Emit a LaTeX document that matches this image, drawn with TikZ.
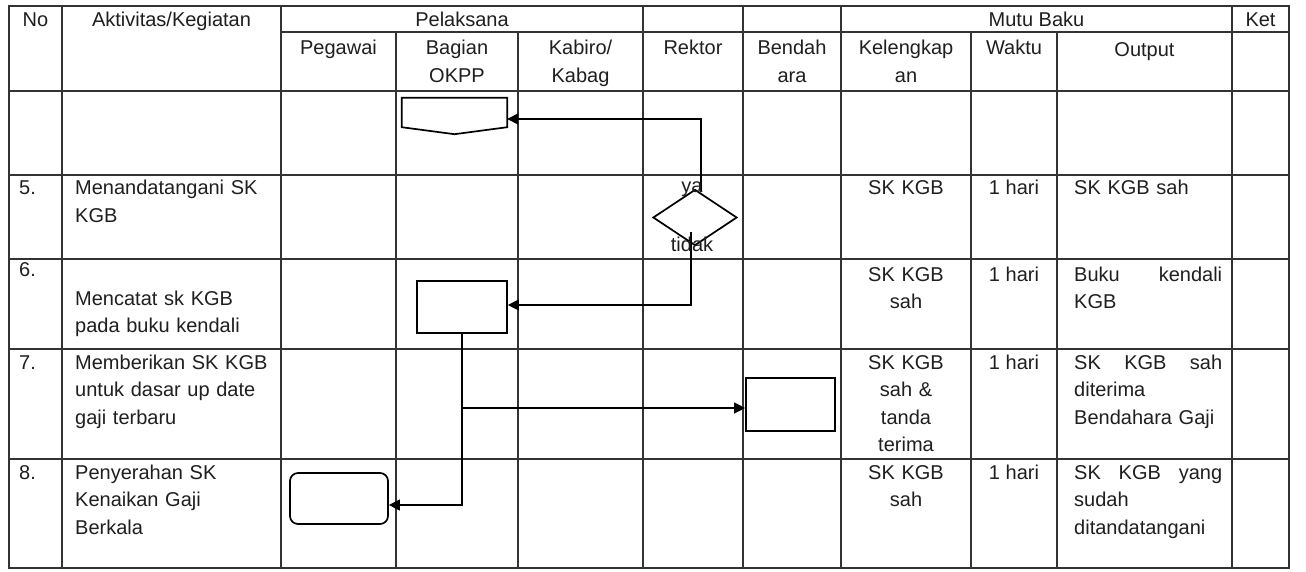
\documentclass[tikz,border=0pt]{standalone}
\usepackage{fontspec}
\setmainfont{Liberation Sans}
\usetikzlibrary{arrows.meta,shapes.geometric}
\begin{document}
\begin{tikzpicture}[x=1pt,y=-1pt,
  grid/.style={line width=1.1pt,draw=black!80,line cap=rect},
  txt/.style={font={\fontsize{20}{27.6}\selectfont},inner sep=0pt,text=black!88},
  lt/.style={txt,anchor=base west,align=left},
  ct/.style={txt,anchor=base,align=center},
  shp/.style={draw=black,line width=1.7pt,inner sep=0pt},
  conn/.style={line width=1.3pt,draw=black},
  flow/.style={conn,-{Triangle[length=11pt,width=11pt]}},
]
\path[use as bounding box,fill=white] (0,0) rectangle (1306,571);

% table grid
\foreach \x in {9,62,281,643,743,841,1232,1289} \draw[grid] (\x,6) -- (\x,568);
\foreach \x in {396,518,971,1057} \draw[grid] (\x,32) -- (\x,568);
\draw[grid] (281,32) -- (1289,32);
\foreach \y in {6,91,175,259,349,459,568} \draw[grid] (9,\y) -- (1289,\y);

% header row 1
\node[ct] (hno) at (35.5,26) {No};
\node[ct] (hakt) at (171.5,26) {Aktivitas/Kegiatan};
\node[ct] (hpel) at (462,26) {Pelaksana};
\node[ct] (hmutu) at (1036.5,26) {Mutu Baku};
\node[ct] (hket) at (1260.5,26) {Ket};

% header row 2
\node[ct] (hpeg) at (338.5,54.5) {Pegawai};
\node[ct,text width=110pt] (hbag) at (457,54.5) {Bagian\\OKPP};
\node[ct,text width=115pt] (hkab) at (580.5,54.5) {Kabiro/\\Kabag};
\node[ct] (hrek) at (693,54.5) {Rektor};
\node[ct,text width=90pt] (hben) at (792,54.5) {Bendah\\ara};
\node[ct,text width=125pt] (hkel) at (906,54.5) {Kelengkap\\an};
\node[ct] (hwak) at (1014,54.5) {Waktu};
\node[ct] (hout) at (1144.5,56) {Output};

% row 5
\node[lt] (n5) at (19,194.5) {5.};
\node[lt,text width=205pt] (a5) at (75,194.5) {Menandatangani SK\\KGB};
\node[ct,text width=125pt] (k5) at (906,194.5) {SK KGB};
\node[ct] (w5) at (1014,194.5) {1 hari};
\node[lt,text width=155pt] (o5) at (1074,194.5) {SK KGB sah};

% row 6
\node[lt] (n6) at (19,276) {6.};
\node[lt,text width=205pt] (a6) at (75,305) {Mencatat sk KGB\\pada buku kendali};
\node[ct,text width=125pt] (k6) at (906,281) {SK KGB\\sah};
\node[ct] (w6) at (1014,281) {1 hari};
\node[lt,text width=155pt] (o6) at (1074,281) {\makebox[148pt][l]{Buku\hfill kendali}\\KGB};

% row 7
\node[lt] (n7) at (19,369) {7.};
\node[lt,text width=205pt] (a7) at (75,369) {Memberikan SK KGB\\untuk dasar up date\\gaji terbaru};
\node[ct,text width=125pt] (k7) at (906,369) {SK KGB\\sah \&\\tanda\\terima};
\node[ct] (w7) at (1014,369) {1 hari};
\node[lt,text width=155pt] (o7) at (1074,369) {\makebox[148pt][l]{SK\hfill KGB\hfill sah}\\diterima\\Bendahara Gaji};

% row 8
\node[lt] (n8) at (19,479) {8.};
\node[lt,text width=205pt] (a8) at (75,479) {Penyerahan SK\\Kenaikan Gaji\\Berkala};
\node[ct,text width=125pt] (k8) at (906,479) {SK KGB\\sah};
\node[ct] (w8) at (1014,479) {1 hari};
\node[lt,text width=155pt] (o8) at (1074,479) {\makebox[148pt][l]{SK\hfill KGB\hfill yang}\\sudah\\ditandatangani};

% flow shapes
\node[inner sep=0pt,minimum width=105pt,minimum height=36pt] (opc) at (454.5,116) {};
\draw[shp] (opc.north west) -- (opc.north east) -- ([yshift=7pt]opc.south east)
  -- (opc.south) -- ([yshift=7pt]opc.south west) -- cycle;
\node[shp,minimum width=90pt,minimum height=52pt] (box6) at (462,307) {};
\node[shp,minimum width=89pt,minimum height=53pt] (box7) at (790.5,404.5) {};
\node[shp,rounded corners=8pt,minimum width=98pt,minimum height=51pt] (rbox) at (339,498.5) {};
\node[shp,diamond,minimum width=84pt,minimum height=56pt] (dia) at (695,217.5) {};

% connectors
\coordinate (yatop) at ([xshift=6pt,yshift=-2pt]dia.north);
\draw[flow] (yatop) |- ([yshift=-3pt]opc.east);
\coordinate (tdk) at ([xshift=-4pt,yshift=14pt]dia.south);
\draw[flow] (tdk) |- ([yshift=2pt]box6.east);
\coordinate (j) at (box6.south |- 0,408);
\draw[conn] (box6.south) -- (j);
\draw[flow] (j) -- (j -| box7.west);
\draw[flow] (j) |- (rbox.east |- 0,505);

% decision labels
\node[ct] (ya) at (692,192) {ya};
\node[ct] (tidak) at (692,251) {tidak};
\end{tikzpicture}
\end{document}
